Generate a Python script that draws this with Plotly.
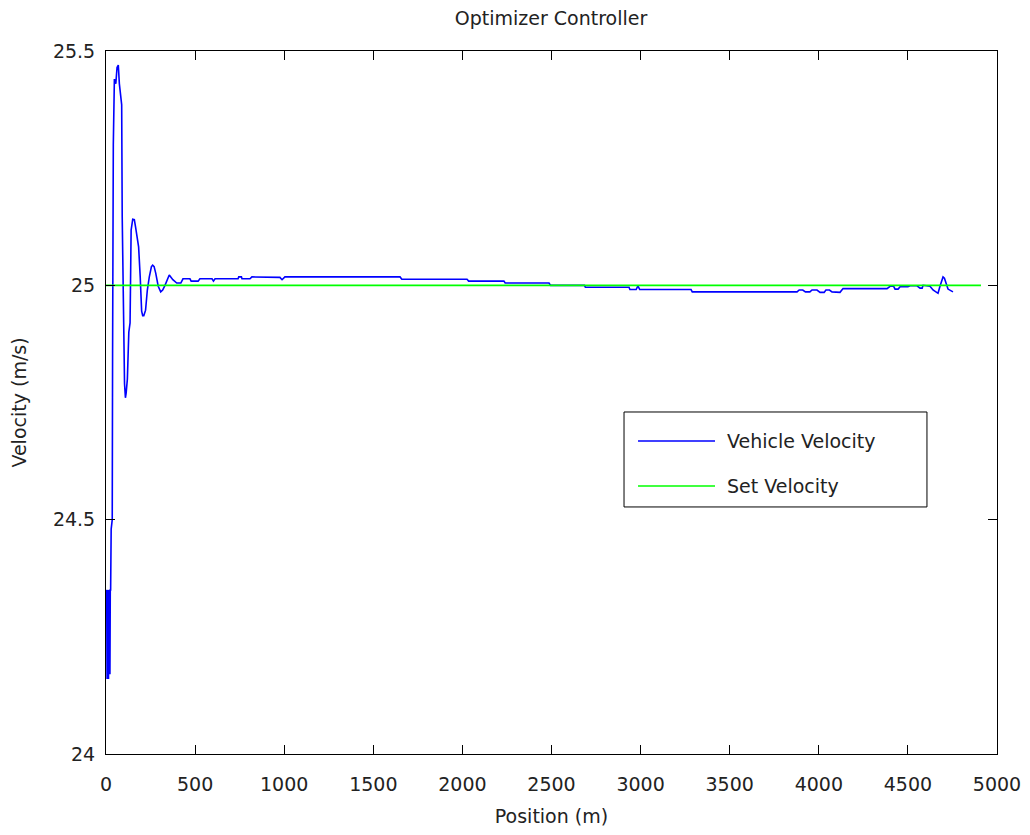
import plotly.graph_objects as go

# vehicle velocity trace (position in m, velocity in m/s)
pos = [0, 2, 4, 6, 8, 10, 12, 14, 16, 18, 20, 22, 24, 26, 29, 32, 35, 37, 41, 47,
       55, 62, 69, 75, 82, 88, 91, 97, 104, 109, 113, 120, 128, 135, 141, 150,
       159, 166, 175, 183, 192, 200, 206, 212, 222, 232, 243, 255, 262, 270, 279,
       293, 307, 318, 331, 345, 355, 375, 397, 420, 432, 471, 478, 517, 527, 595,
       603, 612, 741, 745, 760, 763, 808, 819, 870, 876, 976, 988, 1004, 1650,
       1660, 2026, 2035, 2233, 2240, 2486, 2495, 2685, 2690, 2935, 2940, 2975,
       2985, 2995, 3283, 3290, 3878, 3890, 3910, 3925, 3950, 3962, 3990, 4007,
       4030, 4040, 4060, 4074, 4119, 4136, 4383, 4400, 4420, 4428, 4445, 4456,
       4500, 4512, 4551, 4568, 4580, 4585, 4624, 4641, 4669, 4680, 4697, 4705,
       4714, 4725, 4753]
vel = [24.34, 24.16, 24.35, 24.16, 24.34, 24.17, 24.35, 24.16, 24.34, 24.17,
       24.35, 24.17, 24.35, 24.35, 24.48, 24.49, 24.50, 24.855, 25.30, 25.44,
       25.43, 25.465, 25.47, 25.43, 25.40, 25.385, 25.146, 24.905, 24.79, 24.76,
       24.77, 24.80, 24.90, 24.92, 25.118, 25.141, 25.14, 25.124, 25.10, 25.082,
       25.018, 24.945, 24.935, 24.935, 24.947, 24.99, 25.018, 25.04, 25.043,
       25.04, 25.026, 24.998, 24.986, 24.99, 25.0, 25.015, 25.022, 25.012,
       25.005, 25.005, 25.014, 25.014, 25.009, 25.009, 25.014, 25.014, 25.009,
       25.014, 25.014, 25.018, 25.018, 25.014, 25.014, 25.018, 25.018, 25.017,
       25.017, 25.012, 25.018, 25.018, 25.013, 25.013, 25.009, 25.009, 25.005,
       25.005, 25.0, 25.0, 24.996, 24.996, 24.991, 24.991, 24.999, 24.991,
       24.991, 24.986, 24.986, 24.99, 24.99, 24.986, 24.986, 24.99, 24.99,
       24.985, 24.985, 24.99, 24.99, 24.986, 24.985, 24.993, 24.993, 24.998,
       24.998, 24.992, 24.992, 24.997, 24.997, 24.999, 24.999, 24.994, 24.994,
       25.0, 24.998, 24.99, 24.983, 24.998, 25.018, 25.015, 25.006, 24.992,
       24.986]

set_pos = [0, 4910]
set_vel = [25, 25]

x_ticks = list(range(0, 5001, 500))
y_ticks = [24, 24.5, 25, 25.5]
y_ticktext = ["24", "24.5", "25", "25.5"]

FONT = "DejaVu Sans, Verdana, sans-serif"
TXT = "#222"
BLUE = "rgb(0,0,255)"
GREEN = "rgb(0,255,0)"

fig = go.Figure()
fig.add_trace(go.Scatter(x=pos, y=vel, mode="lines", name="Vehicle Velocity",
                         line=dict(color=BLUE, width=1.6)))
fig.add_trace(go.Scatter(x=set_pos, y=set_vel, mode="lines", name="Set Velocity",
                         line=dict(color=GREEN, width=1.6)))

axis_common = dict(showline=True, linecolor="black", linewidth=1, mirror="ticks",
                   ticks="inside", ticklen=9, tickcolor="black", showgrid=False,
                   zeroline=False, automargin=False, tickfont=dict(size=19, color=TXT))

fig.update_xaxes(range=[0, 5000], tickvals=x_ticks, ticklabelstandoff=13,
                 title=dict(text="Position (m)", font=dict(size=19, color=TXT), standoff=22),
                 **axis_common)
fig.update_yaxes(range=[24, 25.5], tickvals=y_ticks, ticktext=y_ticktext, ticklabelstandoff=6,
                 title=dict(text="Velocity (m/s)", font=dict(size=19, color=TXT), standoff=22),
                 **axis_common)

# MATLAB-style legend box: long line samples, drawn in paper coordinates
fig.add_shape(type="rect", xref="paper", yref="paper", x0=0.5814, x1=0.9214,
              y0=0.3514, y1=0.4865, line=dict(color="black", width=1), fillcolor="white")
for tr, yy in zip(fig.data, [0.4452, 0.3812]):
    fig.add_shape(type="line", xref="paper", yref="paper", x0=0.5971, x1=0.6835,
                  y0=yy, y1=yy, line=dict(color=tr.line.color, width=1.6))
    fig.add_annotation(text=tr.name, xref="paper", yref="paper", x=0.6947, y=yy,
                       xanchor="left", yanchor="middle", showarrow=False,
                       font=dict(size=19, color=TXT))

# the page body has an 8px margin, so the figure is sized to fit inside it
fig.update_layout(
    width=1014, height=819,
    margin=dict(l=98, r=25, t=43, b=73),
    plot_bgcolor="white", paper_bgcolor="white",
    showlegend=False,
    font=dict(family=FONT, size=19, color=TXT),
    title=dict(text="Optimizer Controller", x=543 / 1014, xanchor="center",
               y=1 - 10 / 819, yanchor="middle", font=dict(size=19, color=TXT)),
)

fig.write_html("out.html")
